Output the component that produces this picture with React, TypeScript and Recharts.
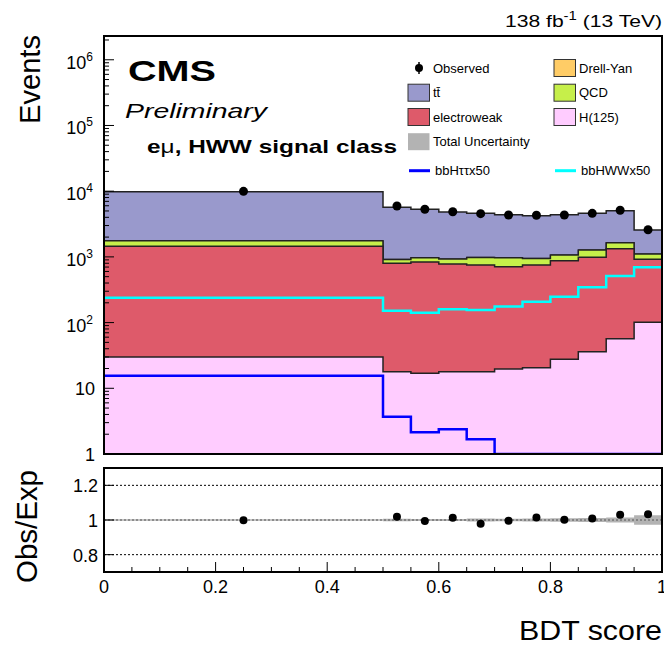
import React from 'react';
import { ComposedChart, Area, Line, Scatter, XAxis, YAxis, ReferenceLine } from 'recharts';

const FONT = '"Liberation Sans", Arial, Helvetica, sans-serif';

// BDT score binning: one wide bin, then ten narrow ones
const BIN_EDGES = [0, 0.5, 0.55, 0.6, 0.65, 0.7, 0.75, 0.8, 0.85, 0.9, 0.95, 1.0];

// expected yields per bin (stack order bottom -> top)
const H125 = [30, 17.9, 16.9, 17.9, 17.9, 19.7, 20.6, 27.6, 36.1, 56.9, 101];
const ELECTROWEAK = [1420, 781, 819, 762, 735, 690, 732, 849, 949, 1277, 818];
const QCD = [307, 116, 133, 145, 228, 259, 194, 188, 284, 305, 184];
const DRELL_YAN = [8, 4, 4, 4, 4, 4, 4, 4, 5, 6, 4];
const TTBAR = [8035, 4771, 4327, 3891, 3615, 3417, 3289, 3321, 3326, 3405, 1463];

const OBSERVED = [9950, 5950, 5300, 4870, 4550, 4340, 4300, 4340, 4600, 5120, 2590];

// signals scaled x50
const BBHTT_X50 = [15.5, 3.7, 2.14, 2.38, 1.67, 1, 1, 1, 1, 1, 1];
const BBHWW_X50 = [239, 152, 141, 159, 156, 175, 208, 248, 344, 512, 695];

// ratio panel
const RATIO = [0.998, 1.019, 0.994, 1.013, 0.979, 0.996, 1.015, 1.002, 1.008, 1.031, 1.033];
const RATIO_UNC = [0.004, 0.007, 0.006, 0.006, 0.008, 0.007, 0.009, 0.01, 0.011, 0.015, 0.028];

const X_TICKS = [0, 0.05, 0.1, 0.15, 0.2, 0.25, 0.3, 0.35, 0.4, 0.45, 0.5, 0.55, 0.6, 0.65, 0.7, 0.75, 0.8, 0.85, 0.9, 0.95, 1];
const X_MAJOR = [0, 0.2, 0.4, 0.6, 0.8, 1];
const Y_DECADES = [1, 10, 100, 1000, 10000, 100000, 1000000];
const Y_MAX = 2.3e6;
const RATIO_TICKS = [0.8, 1, 1.2];

const COLORS = {
  tt: '#9999cc',
  ewk: '#de5a6a',
  qcd: '#c6ef4a',
  dy: '#ffcc66',
  h: '#ffccff',
  unc: '#b3b3b3',
  bbhtt: '#0000ff',
  bbhww: '#00ffff',
};

const LEGEND = [
  { label: 'Observed', kind: 'marker', color: '#000', col: 0, row: 0 },
  { label: 't\u0074\u0304', kind: 'box', color: COLORS.tt, col: 0, row: 1 },
  { label: 'electroweak', kind: 'box', color: COLORS.ewk, col: 0, row: 2 },
  { label: 'Total Uncertainty', kind: 'fill', color: COLORS.unc, col: 0, row: 3 },
  { label: 'bbH\u03c4\u03c4x50', kind: 'line', color: COLORS.bbhtt, col: 0, row: 4 },
  { label: 'Drell-Yan', kind: 'box', color: COLORS.dy, col: 1, row: 0 },
  { label: 'QCD', kind: 'box', color: COLORS.qcd, col: 1, row: 1 },
  { label: 'H(125)', kind: 'box', color: COLORS.h, col: 1, row: 2 },
  { label: 'bbHWWx50', kind: 'line', color: COLORS.bbhww, col: 1, row: 4 },
];

// minor log ticks
const Y_TICKS: number[] = [];
Y_DECADES.forEach((d) => {
  for (let k = 1; k <= 9; k++) {
    if (d * k <= Y_MAX) Y_TICKS.push(d * k);
  }
});

const last = H125.length - 1;
const mainRows = BIN_EDGES.map((x, i) => {
  const b = Math.min(i, last);
  const h = H125[b];
  const ewk = h + ELECTROWEAK[b];
  const qcd = ewk + QCD[b];
  const dy = qcd + DRELL_YAN[b];
  const tt = dy + TTBAR[b];
  return { x, h, ewk, qcd, dy, tt, bbhtt: BBHTT_X50[b], bbhww: BBHWW_X50[b] };
});

const obsPoints = OBSERVED.map((obs, i) => ({ x: (BIN_EDGES[i] + BIN_EDGES[i + 1]) / 2, obs }));

const ratioRows = BIN_EDGES.map((x, i) => {
  const b = Math.min(i, last);
  return { x, band: [1 - RATIO_UNC[b], 1 + RATIO_UNC[b]] };
});
const ratioPoints = RATIO.map((ratio, i) => ({ x: (BIN_EDGES[i] + BIN_EDGES[i + 1]) / 2, ratio }));

const isMajorX = (v: number) => X_MAJOR.some((m) => Math.abs(m - v) < 1e-6);

const MainXTick = (props: any) => {
  const { x, y, payload } = props;
  const len = isMajorX(payload.value) ? 10 : 5;
  return <line x1={x} x2={x} y1={y} y2={y - len} stroke="#000" strokeWidth={1} />;
};

const RatioXTick = (props: any) => {
  const { x, y, payload } = props;
  const major = isMajorX(payload.value);
  return (
    <g>
      <line x1={x} x2={x} y1={y} y2={y - (major ? 10 : 5)} stroke="#000" strokeWidth={1} />
      {major && (
        <text x={x} y={y + 21} textAnchor="middle" fontSize={18} fontFamily={FONT} fill="#000">
          {String(payload.value)}
        </text>
      )}
    </g>
  );
};

const LogYTick = (props: any) => {
  const { x, y, payload } = props;
  const v = payload.value as number;
  const lg = Math.log10(v);
  const exp = Math.round(lg);
  const major = Math.abs(lg - exp) < 1e-6;
  return (
    <g>
      <line x1={x} x2={x + (major ? 10 : 5)} y1={y} y2={y} stroke="#000" strokeWidth={1} />
      {major && exp <= 1 && (
        <text x={x - 9} y={y + 6.5} textAnchor="end" fontSize={18} fontFamily={FONT} fill="#000">
          {String(v)}
        </text>
      )}
      {major && exp > 1 && (
        <text x={x - 11} y={y + 9} textAnchor="end" fontSize={18} fontFamily={FONT} fill="#000">
          10<tspan dy={-8} fontSize={12}>{exp}</tspan>
        </text>
      )}
    </g>
  );
};

const RatioYTick = (props: any) => {
  const { x, y, payload } = props;
  return (
    <g>
      <line x1={x} x2={x + 10} y1={y} y2={y} stroke="#000" strokeWidth={1} />
      <text x={x - 6} y={y + 7} textAnchor="end" fontSize={18} fontFamily={FONT} fill="#000">
        {String(payload.value)}
      </text>
    </g>
  );
};

const DotShape = (props: any) => <circle cx={props.cx} cy={props.cy} r={4.5} fill="#000" />;
const SmallDot = (props: any) => <circle cx={props.cx} cy={props.cy} r={4} fill="#000" />;

const LEG_ROWS = [68, 92.7, 117, 141.7, 170.7];
const LEG_COLS = [408, 554];

function LegendItems() {
  return (
    <g fontFamily={FONT} fontSize={13} fill="#000">
      {LEGEND.map((e) => {
        const x0 = LEG_COLS[e.col];
        const cy = LEG_ROWS[e.row];
        let sym: React.ReactNode = null;
        if (e.kind === 'marker') {
          sym = (
            <g>
              <line x1={x0 + 11} x2={x0 + 11} y1={cy - 6} y2={cy + 6} stroke="#000" strokeWidth={1.5} />
              <circle cx={x0 + 11} cy={cy} r={4} fill="#000" />
            </g>
          );
        } else if (e.kind === 'box') {
          sym = <rect x={x0} y={cy - 8.5} width={21.5} height={17} fill={e.color} stroke="#333" strokeWidth={1} />;
        } else if (e.kind === 'fill') {
          sym = <rect x={x0} y={cy - 8.5} width={21.5} height={17} fill={e.color} />;
        } else {
          sym = <line x1={x0 + 1} x2={x0 + 22} y1={cy} y2={cy} stroke={e.color} strokeWidth={3} />;
        }
        const tx = x0 + (e.kind === 'line' ? 27 : 25);
        return (
          <g key={e.label}>
            {sym}
            <text x={tx} y={cy + 4.7}>{e.label}</text>
          </g>
        );
      })}
    </g>
  );
}

export default function App() {
  return (
    <div style={{ position: 'absolute', left: 0, top: 0, width: 664, height: 646, background: '#fff' }}>
      <div style={{ position: 'absolute', left: 0, top: 0 }}>
        <ComposedChart width={664} height={470} data={mainRows} margin={{ top: 36, right: 2, bottom: 16, left: 0 }}>
          <XAxis dataKey="x" type="number" domain={[0, 1]} ticks={X_TICKS} interval={0} height={0}
            tickSize={0} tickMargin={0} axisLine={false} tickLine={false} tick={MainXTick} allowDataOverflow />
          <YAxis type="number" scale="log" domain={[1, Y_MAX]} allowDataOverflow ticks={Y_TICKS} interval={0}
            width={104} tickSize={0} tickMargin={0} axisLine={false} tickLine={false} tick={LogYTick} />
          <Area dataKey="tt" type="stepAfter" baseValue={1} fill={COLORS.tt} fillOpacity={1} stroke="#222" strokeWidth={1.5} isAnimationActive={false} />
          <Area dataKey="dy" type="stepAfter" baseValue={1} fill={COLORS.dy} fillOpacity={1} stroke="#222" strokeWidth={1} isAnimationActive={false} />
          <Area dataKey="qcd" type="stepAfter" baseValue={1} fill={COLORS.qcd} fillOpacity={1} stroke="#222" strokeWidth={1.5} isAnimationActive={false} />
          <Area dataKey="ewk" type="stepAfter" baseValue={1} fill={COLORS.ewk} fillOpacity={1} stroke="#222" strokeWidth={1.5} isAnimationActive={false} />
          <Area dataKey="h" type="stepAfter" baseValue={1} fill={COLORS.h} fillOpacity={1} stroke="#222" strokeWidth={1.5} isAnimationActive={false} />
          <Line dataKey="bbhww" type="stepAfter" stroke={COLORS.bbhww} strokeWidth={2.5} dot={false} isAnimationActive={false} />
          <Line dataKey="bbhtt" type="stepAfter" stroke={COLORS.bbhtt} strokeWidth={2.5} dot={false} isAnimationActive={false} />
          <Scatter data={obsPoints} dataKey="obs" fill="#000" shape={DotShape} isAnimationActive={false} />
        </ComposedChart>
      </div>
      <div style={{ position: 'absolute', left: 0, top: 460 }}>
        <ComposedChart width={664} height={186} data={ratioRows} margin={{ top: 8, right: 2, bottom: 0, left: 0 }}>
          <XAxis dataKey="x" type="number" domain={[0, 1]} ticks={X_TICKS} interval={0} height={74}
            tickSize={0} tickMargin={0} axisLine={false} tickLine={false} tick={RatioXTick} allowDataOverflow />
          <YAxis type="number" domain={[0.7, 1.3]} allowDataOverflow ticks={RATIO_TICKS} interval={0}
            width={104} tickSize={0} tickMargin={0} axisLine={false} tickLine={false} tick={RatioYTick} />
          <Area dataKey="band" type="stepAfter" fill={COLORS.unc} fillOpacity={1} stroke="none" isAnimationActive={false} />
          <ReferenceLine y={1.2} stroke="#000" strokeWidth={1} strokeDasharray="2 2" />
          <ReferenceLine y={1} stroke="#555" strokeWidth={1} strokeDasharray="2 2" />
          <ReferenceLine y={0.8} stroke="#000" strokeWidth={1} strokeDasharray="2 2" />
          <Scatter data={ratioPoints} dataKey="ratio" fill="#000" shape={SmallDot} isAnimationActive={false} />
        </ComposedChart>
      </div>
      <svg width={664} height={646} style={{ position: 'absolute', left: 0, top: 0, pointerEvents: 'none' }}>
        <rect x={104} y={36} width={558} height={418} fill="none" stroke="#000" strokeWidth={2} />
        <rect x={104} y={468} width={558} height={104} fill="none" stroke="#000" strokeWidth={2} />
        <g fontFamily={FONT} fill="#000">
          <text x={662} y={27} textAnchor="end" fontSize={17} textLength={157} lengthAdjust="spacingAndGlyphs">
            138 fb<tspan dy={-7} fontSize={12}>-1</tspan><tspan dy={7}> (13 TeV)</tspan>
          </text>
          <text x={128} y={81} fontSize={30} fontWeight="bold" textLength={88} lengthAdjust="spacingAndGlyphs">CMS</text>
          <text x={125} y={118} fontSize={21} fontStyle="italic" textLength={142} lengthAdjust="spacingAndGlyphs">Preliminary</text>
          <text x={147} y={153} fontSize={18.5} fontWeight="bold" textLength={250} lengthAdjust="spacingAndGlyphs">
            e<tspan fontWeight="normal">{'\u03bc'}</tspan>, HWW signal class
          </text>
          <text transform="translate(40,35) rotate(-90)" textAnchor="end" fontSize={30} textLength={89} lengthAdjust="spacingAndGlyphs">Events</text>
          <text transform="translate(37,470) rotate(-90)" textAnchor="end" fontSize={29} textLength={113} lengthAdjust="spacingAndGlyphs">Obs/Exp</text>
          <text x={662} y={640} textAnchor="end" fontSize={28} textLength={143} lengthAdjust="spacingAndGlyphs">BDT score</text>
        </g>
        <LegendItems />
      </svg>
    </div>
  );
}
